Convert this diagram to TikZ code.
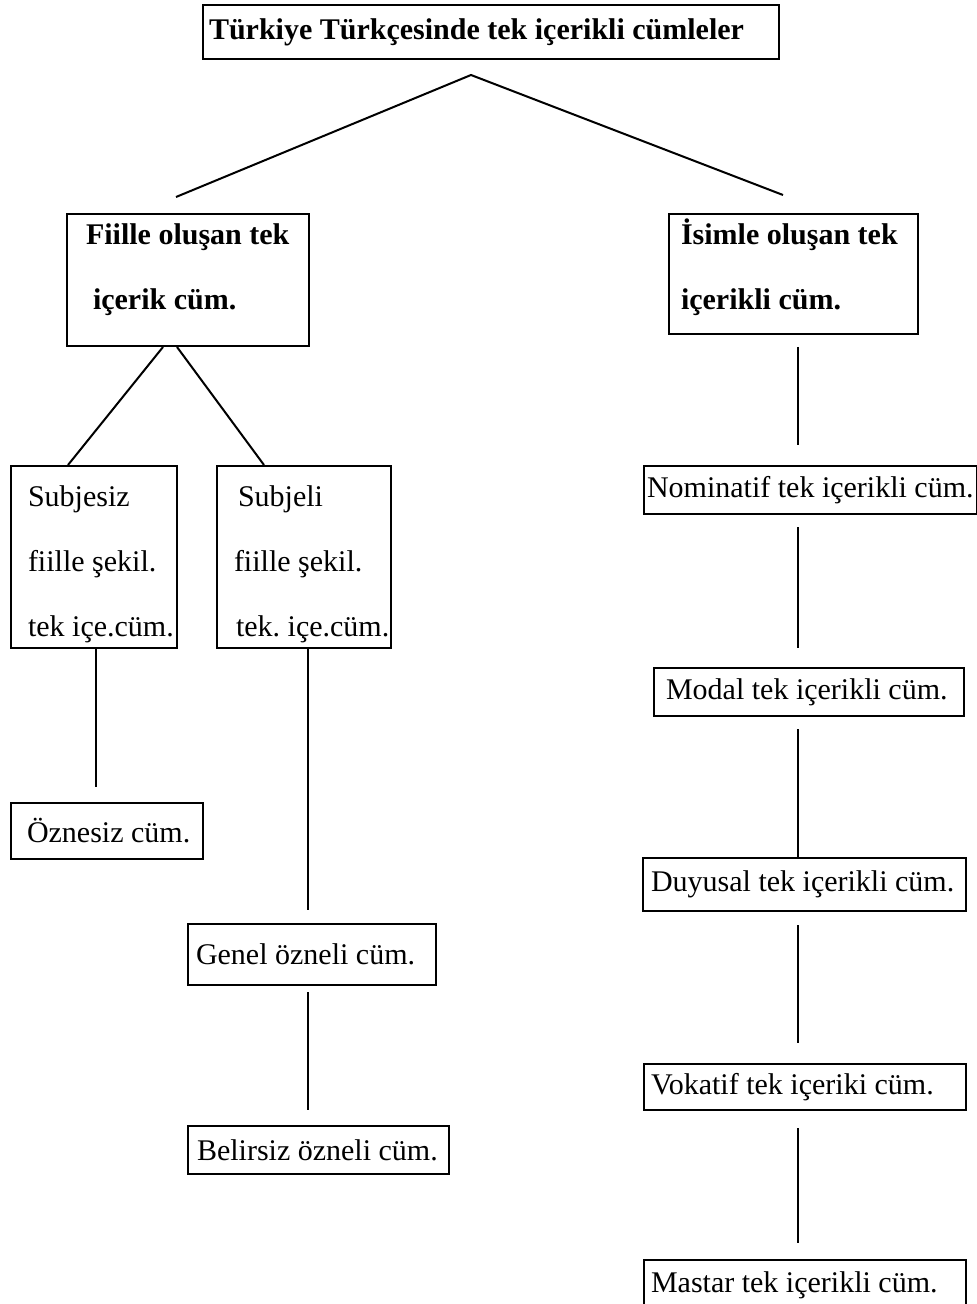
\documentclass[tikz,border=0pt]{standalone}
\usepackage{fontspec}
\setmainfont{Liberation Serif}[Ligatures=CommonOff, WordSpace={1,1,0}]
\usepackage{tikz}
\usetikzlibrary{positioning, calc}
\tikzset{
	box/.style ={rectangle, draw=black, line width=1pt, anchor=north west, align=flush left, inner ysep=0pt, font=\fontsize{15}{32.5}\selectfont},
	bbox/.style={box, font=\bfseries\fontsize{15}{32.5}\selectfont},
	% connector styles
	link/.style={line width=1pt},
}
\begin{document}
\begin{tikzpicture}[x=0.5pt, y=-0.5pt]
	\useasboundingbox (0,0) rectangle (977,1304);
	\node[bbox, text width=282pt, inner xsep=3pt, minimum height=27pt] (title) at (202,4) {Türkiye~Türkçesinde~tek~içerikli~cümleler};
	\node[bbox, text width=102pt, inner xsep=9.5pt, minimum height=66pt, text depth=45.8pt] (fiil) at (66,213) {Fiille~oluşan~tek\\\hspace*{3.5pt}içerik~cüm.};
	\node[bbox, text width=112.5pt, inner xsep=6pt, minimum height=60pt, text depth=42.8pt] (isim) at (668,213) {İsimle~oluşan~tek\\içerikli~cüm.};
	\node[box, text width=66pt, inner xsep=8.5pt, minimum height=91pt, text depth=61.3pt] (subjesiz) at (10,465) {Subjesiz\\fiille~şekil.\\tek~içe.cüm.};
	\node[box, text width=70pt, inner xsep=8.5pt, minimum height=91pt, text depth=61.3pt] (subjeli) at (216,465) {\hspace*{2pt}Subjeli\\fiille~şekil.\\\hspace*{1pt}tek.~içe.cüm.};
	\node[box, text width=80pt, inner xsep=8pt, minimum height=28pt] (oznesiz) at (10,802) {Öznesiz~cüm.};
	\node[box, text width=116pt, inner xsep=4pt, minimum height=30.5pt] (genel) at (187,923) {Genel~özneli~cüm.};
	\node[box, text width=121.5pt, inner xsep=4.5pt, minimum height=24pt] (belirsiz) at (187,1125) {Belirsiz~özneli~cüm.};
	\node[box, text width=163.5pt, inner xsep=1.5pt, minimum height=24pt] (nominatif) at (643,465) {Nominatif~tek~içerikli~cüm.};
	\node[box, text width=143pt, inner xsep=6pt, minimum height=24pt] (modal) at (653,667) {Modal~tek~içerikli~cüm.};
	\node[box, text width=153.5pt, inner xsep=4pt, minimum height=26.5pt] (duyusal) at (642,857) {Duyusal~tek~içerikli~cüm.};
	\node[box, text width=154pt, inner xsep=3.5pt, minimum height=23pt] (vokatif) at (643,1063) {Vokatif~tek~içeriki~cüm.};
	\node[box, text width=154pt, inner xsep=3.5pt, minimum height=25pt] (mastar) at (643,1259) {Mastar~tek~içerikli~cüm.};
	\coordinate (apex) at ($(title.south)+(-20,15)$);
	\coordinate (fiiltop) at ($(fiil.north)+(-12,-16)$);
	\coordinate (isimtop) at ($(isim.north)+(-10.5,-18)$);
	\coordinate (lspine) at (96,0);
	\coordinate (mspine) at (308,0);
	\coordinate (rspine) at (798,0);
	\draw[link] (fiiltop) -- (apex) -- (isimtop);
	\draw[link] ($(fiil.south)+(-25,0)$) -- ($(subjesiz.north)+(-26,0)$);
	\draw[link] ($(fiil.south)+(-11,0)$) -- ($(subjeli.north)+(-40,0)$);
	\draw[link, shorten >=7.5pt] (subjesiz.south -| lspine) -- (oznesiz.north -| lspine);
	\draw[link, shorten >=6.5pt] (subjeli.south -| mspine) -- (genel.north -| mspine);
	\draw[link, shorten <=3pt, shorten >=7.5pt] (genel.south -| mspine) -- (belirsiz.north -| mspine);
	\draw[link, shorten <=6pt, shorten >=10pt] (isim.south -| rspine) -- (nominatif.north -| rspine);
	\draw[link, shorten <=6pt, shorten >=9.5pt] (nominatif.south -| rspine) -- (modal.north -| rspine);
	\draw[link, shorten <=6pt] (modal.south -| rspine) -- (duyusal.north -| rspine);
	\draw[link, shorten <=6.5pt, shorten >=10pt] (duyusal.south -| rspine) -- (vokatif.north -| rspine);
	\draw[link, shorten <=8.5pt, shorten >=8pt] (vokatif.south -| rspine) -- (mastar.north -| rspine);
\end{tikzpicture}
\end{document}
